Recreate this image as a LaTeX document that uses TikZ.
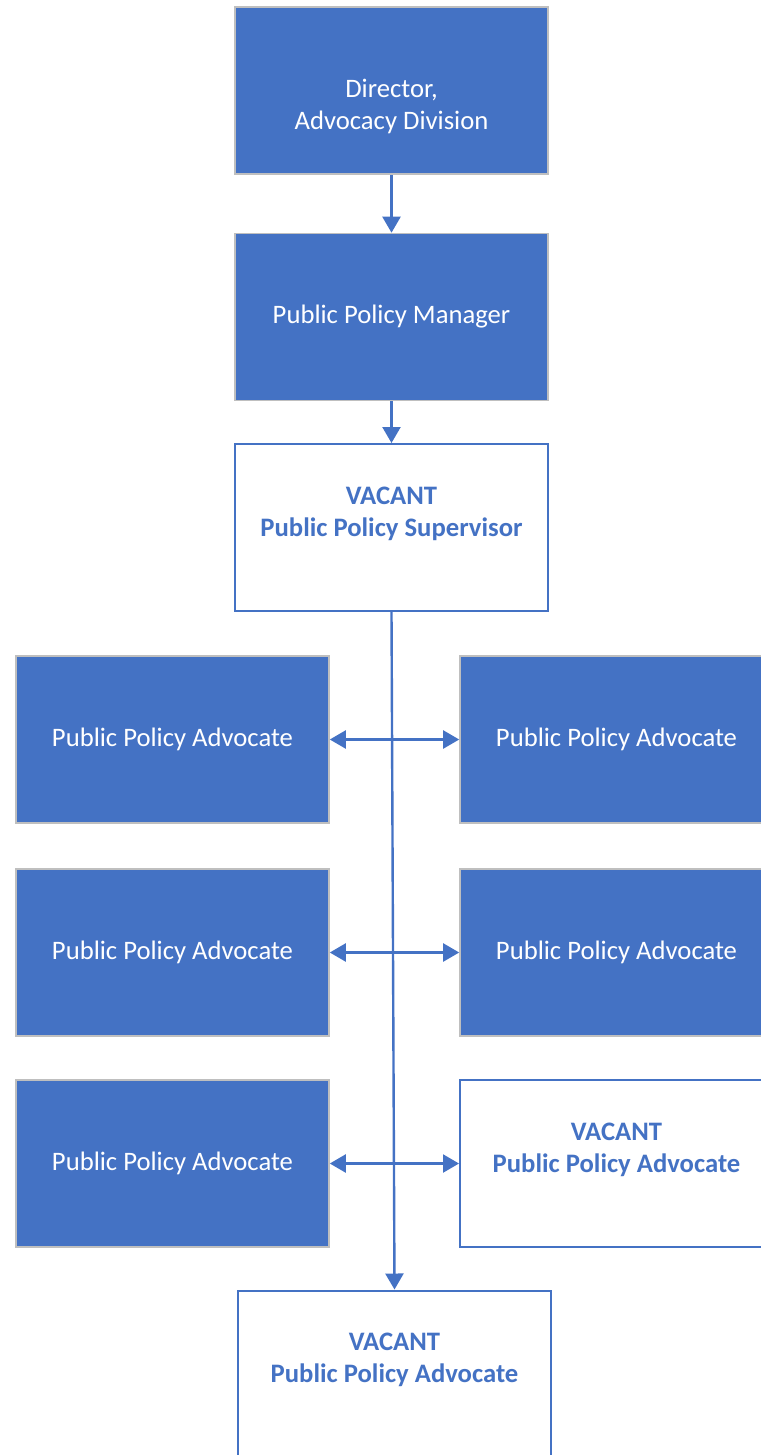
\documentclass[tikz,border=0pt]{standalone}
\usepackage{fontspec}
\setmainfont{Carlito}
\usetikzlibrary{arrows.meta}
\definecolor{ablue}{HTML}{4472C4}
\definecolor{agray}{HTML}{BFBFBF}
\tikzset{
  filledbox/.style={rectangle, draw=agray, line width=1.2pt, fill=ablue, text=white,
    minimum width=234.75pt, minimum height=125.25pt, inner sep=0pt, align=center,
    font=\fontsize{20pt}{24pt}\selectfont},
  vacantbox/.style={rectangle, draw=ablue, line width=1.5pt, fill=white, text=ablue,
    minimum width=234.75pt, minimum height=125.25pt, inner sep=0pt, align=center,
    font=\fontsize{20pt}{24pt}\selectfont\bfseries},
  conn/.style={draw=ablue, line width=1.7pt, -{Triangle[width=13.5pt,length=12pt]}},
  dconn/.style={draw=ablue, line width=1.7pt, {Triangle[width=13.5pt,length=12pt]}-{Triangle[width=13.5pt,length=12pt]}},
  trunk/.style={draw=ablue, line width=1.8pt, -{Triangle[width=13.5pt,length=12pt]}}
}
\begin{document}
\begin{tikzpicture}[x=0.75pt, y=-0.75pt]
\useasboundingbox (0,0) rectangle (760,1455);
\node[filledbox] (dir) at (391.5,90.5) {\rule{0pt}{13pt}\\Director,\\Advocacy Division};
\node[filledbox] (mgr) at (391.5,317) {Public Policy Manager};
\node[vacantbox] (sup) at (391.5,527.5) {VACANT\\Public Policy Supervisor\\\mbox{}};
\node[filledbox] (l1) at (172.5,739.5) {Public Policy Advocate};
\node[filledbox] (l2) at (172.5,952.5) {Public Policy Advocate};
\node[filledbox] (l3) at (172.5,1163.5) {Public Policy Advocate};
\node[filledbox] (r1) at (616.5,739.5) {Public Policy Advocate};
\node[filledbox] (r2) at (616.5,952.5) {Public Policy Advocate};
\node[vacantbox] (r3) at (616.5,1163.5) {VACANT\\Public Policy Advocate\\\mbox{}};
\node[vacantbox] (bot) at (394.5,1374) {VACANT\\Public Policy Advocate\\\mbox{}};
\draw[conn] (dir) -- (mgr);
\draw[conn] (mgr) -- (sup);
\draw[trunk] (sup.south) -- (bot.north);
\draw[dconn] (l1) -- (r1);
\draw[dconn] (l2) -- (r2);
\draw[dconn] (l3) -- (r3);
\end{tikzpicture}
\end{document}
